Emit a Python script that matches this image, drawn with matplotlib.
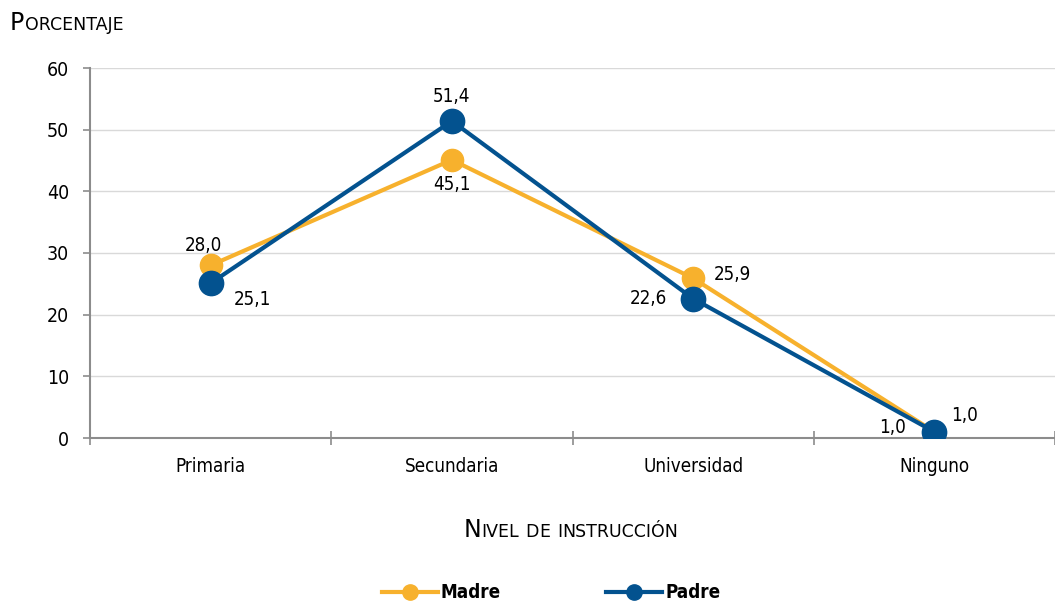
import numpy as np
import matplotlib.pyplot as plt
from matplotlib.lines import Line2D

plt.rcParams['font.family'] = ['DejaVu Sans']
plt.rcParams['font.stretch'] = 'condensed'

# data
categorias = ["Primaria", "Secundaria", "Universidad", "Ninguno"]
madre = [28.0, 45.1, 25.9, 1.0]
padre = [25.1, 51.4, 22.6, 1.0]
yticks = [0, 10, 20, 30, 40, 50, 60]

c_madre = "#F7B12D"
c_padre = "#03528F"
c_axis = "#8C8C8C"
c_grid = "#D9D9D9"

fig = plt.figure(figsize=(10.55, 6.06), dpi=100)
ax = fig.add_axes([90 / 1055, 168 / 606, 965 / 1055, 370 / 606])

x = np.arange(len(categorias))
ax.plot(x, madre, color=c_madre, lw=3, marker="o", ms=16, mec=c_madre,
        mfc=c_madre, zorder=3)
ax.plot(x, padre, color=c_padre, lw=3, marker="o", ms=17.5, mec=c_padre,
        mfc=c_padre, zorder=4)

ax.set_xlim(-0.5, 3.485)
ax.set_ylim(0, 60)
ax.set_yticks(yticks)
ax.set_yticklabels([str(v) for v in yticks], fontsize=14)
ax.set_xticks(x)
ax.set_xticklabels(categorias, fontsize=13.5)
ax.tick_params(axis="x", which="major", length=0, pad=14)
ax.set_xticks(np.arange(-0.5, 3.6, 1.0), minor=True)
ax.tick_params(axis="x", which="minor", length=10, direction="inout",
               color=c_axis, width=1.2)
ax.tick_params(axis="y", length=5, color=c_axis, width=1.2, pad=10)
for v in yticks[1:]:
    ax.axhline(v, color=c_grid, lw=1, zorder=0)
for s in ["top", "right"]:
    ax.spines[s].set_visible(False)
for s in ["left", "bottom"]:
    ax.spines[s].set_color(c_axis)
    ax.spines[s].set_linewidth(1.5)


def fmt(v):
    return f"{v:.1f}".replace(".", ",")


# value labels (offsets in points)
off_madre = [(-5, 14), (0, -18), (28, 3), (-30, 3)]
off_padre = [(30, -12), (0, 18), (-32, 0), (22, 12)]
for i in range(len(categorias)):
    ax.annotate(fmt(madre[i]), (x[i], madre[i]), xytext=off_madre[i],
                textcoords="offset points", ha="center", va="center",
                fontsize=13.5)
    ax.annotate(fmt(padre[i]), (x[i], padre[i]), xytext=off_padre[i],
                textcoords="offset points", ha="center", va="center",
                fontsize=13.5)


def small_caps(fig, text, xpx, ypx, big=17, small=12.5):
    # draws text in small caps, returns the list of texts and the end x (px)
    r = fig.canvas.get_renderer()
    cur = xpx
    parts = []
    for w_i, word in enumerate(text.split(" ")):
        if w_i > 0:
            cur += 6
        first, rest = word[0], word[1:]
        size = big if first.isupper() else small
        t = fig.text(cur / 1055, 1 - ypx / 606, first.upper(), fontsize=size,
                     va="baseline", fontstretch="normal")
        parts.append(t)
        cur = t.get_window_extent(r).x1 + 0.5
        if rest:
            t = fig.text(cur / 1055, 1 - ypx / 606, rest.upper(),
                         fontsize=small, va="baseline", fontstretch="normal")
            parts.append(t)
            cur = t.get_window_extent(r).x1 + 0.5
    return parts, cur


small_caps(fig, "Porcentaje", 10, 30)

# x axis title, centred
parts, end = small_caps(fig, "Nivel de instrucción", 0, 537)
shift = (571 - end / 2) / 1055
for t in parts:
    px, py = t.get_position()
    t.set_position((px + shift, py))

handles = [
    Line2D([], [], color=c_madre, lw=3, marker="o", ms=11),
    Line2D([], [], color=c_padre, lw=3, marker="o", ms=11),
]
fig.legend(handles, ["Madre", "Padre"], loc="center", ncol=2,
           bbox_to_anchor=(551 / 1055, 1 - 593 / 606), frameon=False,
           prop={"weight": "bold", "size": 13.5}, handlelength=3.0,
           handletextpad=0.15, columnspacing=5.6)

fig.savefig("out.png", dpi=100)
